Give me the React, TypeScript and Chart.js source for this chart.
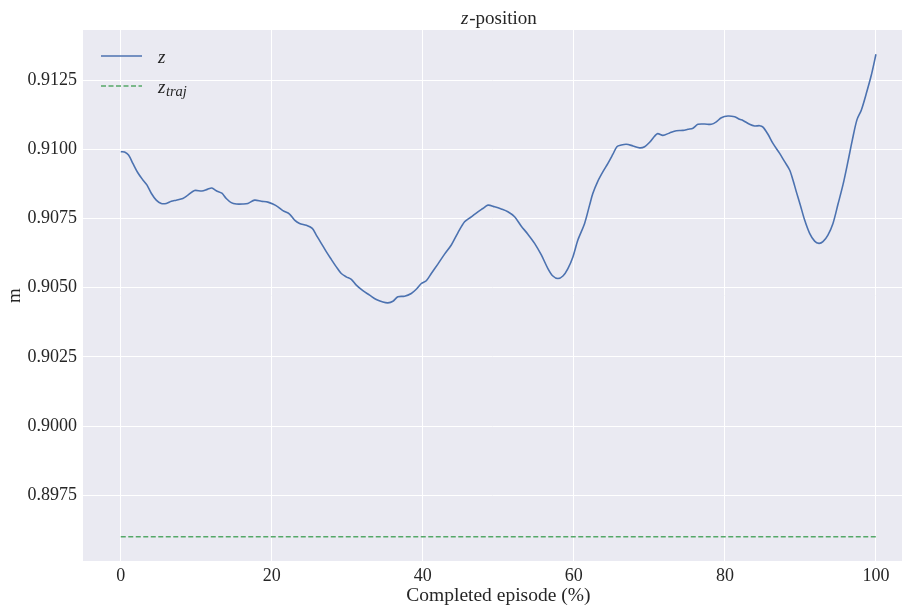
import React, { useEffect, useRef } from "react";
import { Chart, registerables } from "chart.js";

Chart.register(...registerables);

// ---- data ----
const zPct = [
  0.0, 0.5, 1.03, 1.6, 2.26, 2.93, 3.46, 4.04, 4.7, 5.36, 6.03, 6.69, 7.35, 8.22, 8.89, 9.77,
  10.74, 11.46, 12.06, 12.65, 13.39, 13.97, 14.63, 15.3, 16.17, 16.83, 17.72, 18.61, 19.48,
  20.14, 20.81, 21.47, 22.35, 23.02, 23.68, 24.57, 25.36, 25.89, 26.55, 27.21, 27.88, 28.54,
  29.2, 29.86, 30.53, 31.19, 32.06, 32.95, 33.84, 34.71, 35.37, 36.04, 36.7, 37.58, 38.47,
  39.13, 39.8, 40.46, 41.12, 41.99, 42.88, 43.77, 44.64, 45.53, 46.42, 47.29, 47.95, 48.62,
  49.5, 50.39, 51.26, 52.15, 53.04, 53.91, 54.8, 55.69, 56.56, 57.22, 57.89, 58.55, 59.21,
  59.87, 60.53, 61.42, 62.08, 62.52, 63.18, 63.85, 64.51, 65.17, 65.7, 66.28, 66.94, 67.82,
  68.71, 69.37, 70.03, 71.05, 71.79, 72.68, 73.57, 74.44, 75.1, 75.77, 76.43, 77.31, 78.2,
  78.86, 79.53, 80.4, 81.29, 81.95, 82.39, 83.27, 83.94, 84.6, 85.04, 85.7, 86.36, 87.25,
  87.91, 88.57, 89.01, 89.46, 89.99, 90.56, 91.22, 91.88, 92.45, 92.98, 93.64, 94.31, 94.97,
  95.63, 96.29, 96.87, 97.48, 98.07, 98.73, 99.39, 100.0,
];
const zVal = [
  0.90991, 0.9099, 0.90979, 0.90949, 0.90915, 0.90889, 0.90871, 0.90841, 0.90816, 0.90804,
  0.90804, 0.90812, 0.90816, 0.90822, 0.90834, 0.90851, 0.90849, 0.90855, 0.9086, 0.9085,
  0.90841, 0.90822, 0.90807, 0.90802, 0.90802, 0.90804, 0.90816, 0.90812, 0.90809, 0.90802,
  0.90792, 0.90778, 0.90766, 0.90744, 0.90732, 0.90725, 0.90714, 0.9069, 0.9066, 0.9063,
  0.90602, 0.90575, 0.90551, 0.90539, 0.9053, 0.90509, 0.90489, 0.90473, 0.90457, 0.90448,
  0.90445, 0.90451, 0.90467, 0.90469, 0.90479, 0.90494, 0.90515, 0.90525, 0.90551, 0.90585,
  0.90621, 0.90654, 0.90698, 0.90738, 0.90756, 0.90774, 0.90786, 0.90798, 0.90792, 0.90784,
  0.90774, 0.90756, 0.90722, 0.90693, 0.9066, 0.90618, 0.90569, 0.90542, 0.90533, 0.90542,
  0.90569, 0.90611, 0.90672, 0.90732, 0.90798, 0.90841, 0.90885, 0.90919, 0.90949, 0.90982,
  0.91009, 0.91015, 0.91018, 0.91012, 0.91005, 0.91009, 0.91025, 0.91056, 0.9105, 0.91059,
  0.91067, 0.91068, 0.91072, 0.91076, 0.9109, 0.91091, 0.9109, 0.91099, 0.91114, 0.9112,
  0.91117, 0.91108, 0.91104, 0.9109, 0.91084, 0.91085, 0.9108, 0.91054, 0.91021, 0.90985,
  0.90955, 0.90925, 0.90889, 0.90846, 0.90798, 0.90744, 0.90696, 0.90668, 0.9066, 0.90666,
  0.9069, 0.90732, 0.90801, 0.90871, 0.90955, 0.91033, 0.91106, 0.91142, 0.91202, 0.91268,
  0.91343,
];
const trajPct = [0, 100];
const trajVal = [0.896, 0.896];

const xTicks = [0, 20, 40, 60, 80, 100];
const yTicks = [0.8975, 0.9, 0.9025, 0.905, 0.9075, 0.91, 0.9125];
const xRange = [-5, 103.45];
const yRange = [0.895125, 0.914307];
const xCenterValue = 50;

const titleVar = "z";
const titleRest = "-position";
const xLabel = "Completed episode (%)";
const yLabel = "m";
const legendMain = ["z", "z"];
const legendSub = ["", "traj"];

// ---- styles ----
const BLUE = "#4C72B0";
const GREEN = "#55A868";
const BG = "#EAEAF2";
const TEXT = "#262626";
const FONT = "'Liberation Serif', 'Times New Roman', serif";

const decorPlugin = {
  id: "decor",
  beforeDraw(chart: any) {
    const { ctx, chartArea } = chart;
    ctx.save();
    ctx.fillStyle = "#ffffff";
    ctx.fillRect(0, 0, chart.width, chart.height);
    ctx.fillStyle = BG;
    ctx.fillRect(chartArea.left, chartArea.top, chartArea.right - chartArea.left, chartArea.bottom - chartArea.top);
    ctx.restore();
  },
  afterDraw(chart: any) {
    const { ctx, chartArea } = chart;
    const xs = chart.scales.x;
    const cx = xs.getPixelForValue(xCenterValue);
    ctx.save();
    ctx.fillStyle = TEXT;
    ctx.textBaseline = "alphabetic";

    // title
    ctx.font = `italic 19px ${FONT}`;
    const w1 = ctx.measureText(titleVar).width;
    ctx.font = `19px ${FONT}`;
    const w2 = ctx.measureText(titleRest).width;
    const tx = cx - (w1 + w2) / 2;
    ctx.textAlign = "left";
    ctx.font = `italic 19px ${FONT}`;
    ctx.fillText(titleVar, tx, 24);
    ctx.font = `19px ${FONT}`;
    ctx.fillText(titleRest, tx + w1 + 1, 24);

    // x label
    ctx.textAlign = "center";
    ctx.font = `19.5px ${FONT}`;
    ctx.fillText(xLabel, cx, 601);

    // y label
    ctx.save();
    ctx.translate(20, (chartArea.top + chartArea.bottom) / 2);
    ctx.rotate(-Math.PI / 2);
    ctx.textAlign = "center";
    ctx.font = `19px ${FONT}`;
    ctx.fillText(yLabel, 0, 0);
    ctx.restore();

    // legend
    const lx0 = chartArea.left + 18;
    const lx1 = lx0 + 41;
    const rows = [56, 86];
    const colors = [BLUE, GREEN];
    const dashes = [[], [5, 2.5]];
    for (let i = 0; i < 2; i++) {
      ctx.beginPath();
      ctx.strokeStyle = colors[i];
      ctx.lineWidth = 1.6;
      ctx.setLineDash(dashes[i]);
      ctx.moveTo(lx0, rows[i]);
      ctx.lineTo(lx1, rows[i]);
      ctx.stroke();
      ctx.setLineDash([]);
      ctx.textAlign = "left";
      ctx.font = `italic 19px ${FONT}`;
      const tX = lx1 + 16;
      ctx.fillText(legendMain[i], tX, rows[i] + 7);
      if (legendSub[i]) {
        const mw = ctx.measureText(legendMain[i]).width;
        ctx.font = `italic 14.5px ${FONT}`;
        ctx.fillText(legendSub[i], tX + mw + 0.5, rows[i] + 10);
      }
    }
    ctx.restore();
  },
};

export default function App() {
  const ref = useRef<HTMLCanvasElement | null>(null);
  useEffect(() => {
    if (!ref.current) return;
    const chart = new Chart(ref.current, {
      type: "line",
      data: {
        datasets: [
          {
            label: "z",
            data: zPct.map((x, i) => ({ x, y: zVal[i] })),
            borderColor: BLUE,
            borderWidth: 1.6,
            pointRadius: 0,
            tension: 0.3,
            fill: false,
          },
          {
            label: "z_traj",
            data: trajPct.map((x, i) => ({ x, y: trajVal[i] })),
            borderColor: GREEN,
            borderWidth: 1.6,
            borderDash: [5, 2.5],
            pointRadius: 0,
            fill: false,
          },
        ],
      },
      plugins: [decorPlugin],
      options: {
        responsive: false,
        animation: false,
        devicePixelRatio: 1,
        layout: { padding: { top: 30, left: 0, right: 0, bottom: 0 } },
        plugins: {
          legend: { display: false },
          title: { display: false },
          tooltip: { enabled: false },
        },
        scales: {
          x: {
            type: "linear",
            min: xRange[0],
            max: xRange[1],
            afterBuildTicks: (s: any) => {
              s.ticks = xTicks.map((v) => ({ value: v }));
            },
            afterFit: (s: any) => {
              s.height = 47;
            },
            grid: { color: "#ffffff", lineWidth: 1, drawTicks: false },
            border: { display: false },
            ticks: {
              color: TEXT,
              padding: 4,
              font: { family: FONT, size: 18 },
              maxRotation: 0,
              callback: (v: any) => String(v),
            },
          },
          y: {
            type: "linear",
            min: yRange[0],
            max: yRange[1],
            afterBuildTicks: (s: any) => {
              s.ticks = yTicks.map((v) => ({ value: v }));
            },
            afterFit: (s: any) => {
              s.width = 83;
            },
            grid: { color: "#ffffff", lineWidth: 1, drawTicks: false },
            border: { display: false },
            ticks: {
              color: TEXT,
              padding: 6,
              font: { family: FONT, size: 18 },
              callback: (v: any) => Number(v).toFixed(4),
            },
          },
        },
      },
    } as any);
    return () => chart.destroy();
  }, []);
  return (
    <div style={{ position: "fixed", left: 0, top: 0, width: 902, height: 608, overflow: "hidden", background: "#fff" }}>
      <canvas ref={ref} width={902} height={608} style={{ display: "block", width: 902, height: 608 }} />
    </div>
  );
}
